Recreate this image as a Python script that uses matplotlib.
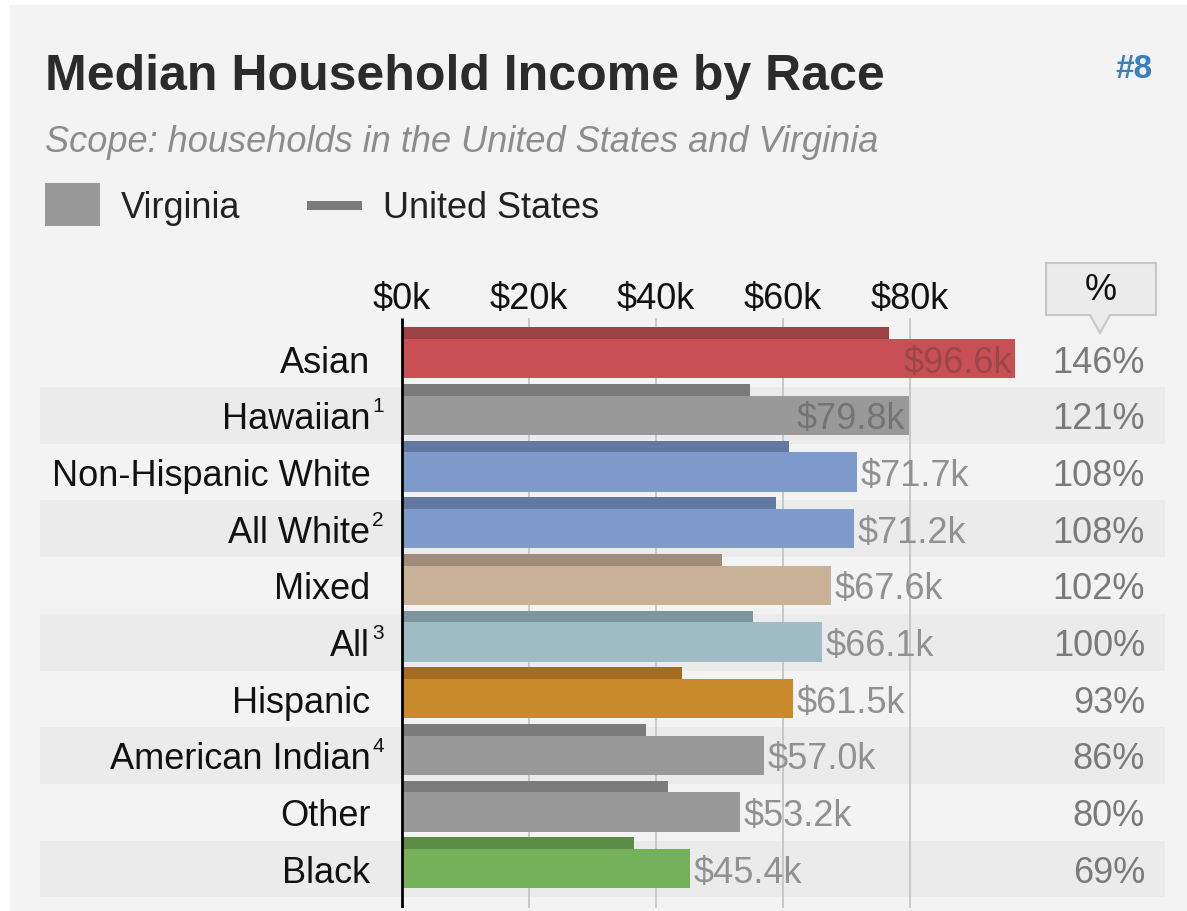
import numpy as np
import matplotlib
matplotlib.use("Agg")
from matplotlib import pyplot as plt
from matplotlib.patches import Rectangle, Polygon

# median household income, thousands of dollars
races = ["Asian", "Hawaiian", "Non-Hispanic White", "All White", "Mixed",
         "All", "Hispanic", "American Indian", "Other", "Black"]
footnotes = ["", "1", "", "2", "", "3", "", "4", "", ""]
virginia = [96.6, 79.8, 71.7, 71.2, 67.6, 66.1, 61.5, 57.0, 53.2, 45.4]
united_states = [76.7, 54.8, 61.0, 58.9, 50.4, 55.3, 44.1, 38.4, 41.9, 36.6]
percent_of_all = [146, 121, 108, 108, 102, 100, 93, 86, 80, 69]
tick_values = [0, 20, 40, 60, 80]

va_colors = ["#c85054", "#999999", "#7f9bcb", "#7f9bcb", "#c8b197",
             "#9fbcc4", "#c98a2c", "#999999", "#999999", "#75b15a"]
us_colors = ["#9c4144", "#7b7b7b", "#6179a1", "#6179a1", "#a08c78",
             "#7e969b", "#a36c20", "#7b7b7b", "#7b7b7b", "#5c8c45"]
inside_colors = {0: "#9b4649", 1: "#747474"}

W, H = 1187, 911
FONT = "Liberation Sans"
BODY = 26


def fx(x):
    return x / W


def fy(y):
    return 1 - y / H


plt.rcParams["font.family"] = [FONT, "DejaVu Sans"]
fig = plt.figure(figsize=(W / 100, H / 100), dpi=100, facecolor="white")

# card background, kept under the axes
fig.patches.append(Rectangle((fx(10), 0), 1 - fx(10), fy(5), transform=fig.transFigure,
                             facecolor="#f3f3f3", edgecolor="none", zorder=-5))

fig.text(fx(45), fy(90), "Median Household Income by Race", fontsize=36,
         fontweight="bold", color="#2b2b2b", va="baseline", ha="left")
fig.text(fx(1153), fy(78), "#8", fontsize=24, fontweight="bold", color="#3a7fbf",
         va="baseline", ha="right")
fig.text(fx(45), fy(152), "Scope: households in the United States and Virginia",
         fontsize=BODY, style="italic", color="#8c8c8c", va="baseline", ha="left")

# legend
fig.patches.append(Rectangle((fx(45), fy(226)), fx(55), 43 / H, transform=fig.transFigure,
                             facecolor="#999999", edgecolor="none"))
fig.text(fx(121), fy(218), "Virginia", fontsize=BODY, color="#222222", va="baseline")
fig.patches.append(Rectangle((fx(307), fy(210)), fx(55), 9 / H, transform=fig.transFigure,
                             facecolor="#7b7b7b", edgecolor="none"))
fig.text(fx(383), fy(218), "United States", fontsize=BODY, color="#222222", va="baseline")

# "%" callout box above the percentage column
box = [(1046, 263), (1156, 263), (1156, 315), (1110, 315), (1100, 333),
       (1090, 315), (1046, 315)]
fig.patches.append(Polygon([(fx(x), fy(y)) for x, y in box], closed=True,
                           transform=fig.transFigure, facecolor="#ebebeb",
                           edgecolor="#c6c6c6", linewidth=1.5))
fig.text(fx(1101), fy(300), "%", fontsize=BODY, color="#111111", ha="center", va="baseline")

# bar area: x in $k, one row per race
px_per_k = 6.35
x0 = 402
ax = fig.add_axes([fx(40), fy(908), fx(1125), 590 / H])
ax.set_xlim((40 - x0) / px_per_k, (1165 - x0) / px_per_k)
ax.set_ylim(9.69, -0.72)
ax.set_facecolor("none")
for s in ax.spines.values():
    s.set_visible(False)

rows = np.arange(len(races))
for i in rows[1::2]:
    ax.axhspan(i - 0.5, i + 0.5, color="#ebebeb", zorder=0, linewidth=0)

ax.vlines(tick_values[1:], -0.72, 9.69, color="#c8c8c8", linewidth=1.4, zorder=1)
ax.barh(rows - 0.4525, united_states, height=0.205, color=us_colors, zorder=2)
ax.barh(rows - 0.0025, virginia, height=0.695, color=va_colors, zorder=3)
ax.vlines(0, -0.72, 9.69, color="black", linewidth=2, zorder=5)

ax.set_yticks([])
ax.set_xticks(tick_values)
ax.set_xticklabels(["$%dk" % v for v in tick_values])
ax.xaxis.tick_top()
ax.tick_params(axis="x", length=0, pad=1, labelsize=BODY, labelcolor="#111111")

base = 0.245
for i, name in enumerate(races):
    y = i + base
    ax.text(-5.0, y, name, fontsize=BODY, color="#111111", ha="right", va="baseline",
            clip_on=False)
    if footnotes[i]:
        ax.text(-4.7, y - 0.3, footnotes[i], fontsize=15, color="#111111", ha="left",
                va="baseline", clip_on=False)
    label = "$%.1fk" % virginia[i]
    if i in inside_colors:
        ax.text(virginia[i] - 0.5, y, label, fontsize=BODY, color=inside_colors[i],
                ha="right", va="baseline", zorder=6)
    else:
        ax.text(virginia[i] + 0.6, y, label, fontsize=BODY, color="#919191",
                ha="left", va="baseline", zorder=6)
    ax.text(117.0, y, "%d%%" % percent_of_all[i], fontsize=BODY, color="#7a7a7a",
            ha="right", va="baseline", clip_on=False)

fig.savefig("out.png", dpi=100, facecolor=fig.get_facecolor())
